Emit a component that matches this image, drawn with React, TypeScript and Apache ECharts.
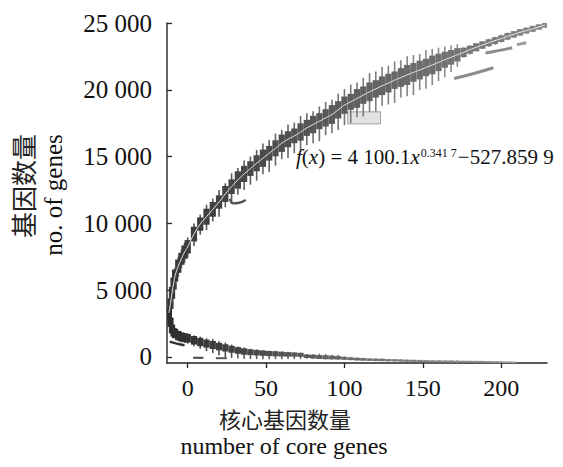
import React, { useEffect, useRef } from "react";
import * as echarts from "echarts";

// ---------- data ----------
const xTicks = [0, 50, 100, 150, 200];
const yTicks = [0, 5000, 10000, 15000, 20000, 25000];

// pan-genome boxes (upper band)
const panX = [-12, -11, -10, -9, -8, -6, -4, -2,
  0, 4, 8, 12, 16, 20, 24, 28, 32, 36,
  40, 44, 48, 52, 56, 60, 64, 68, 72, 76, 80, 84, 88, 92, 96,
  100, 104, 108, 112, 116, 120, 124, 128, 132, 136, 140, 144, 148, 152, 156, 160, 164, 168, 172,
  176, 180, 184, 188, 192, 196, 200, 204, 208, 212, 216, 220, 224, 228];
const panMedian = [3300, 4000, 4800, 5500, 6100, 6800, 7350, 7850,
  8250, 9200, 9950, 10500, 11050, 11600, 12200, 12750, 13250, 13700,
  14100, 14500, 14880, 15250, 15620, 16000, 16300, 16550, 16840, 17150, 17400, 17650, 17900, 18150, 18500,
  18850, 19100, 19350, 19600, 19850, 20070, 20300, 20500, 20720, 20920, 21110, 21300, 21480, 21670, 21860, 22050, 22250, 22430, 22620,
  22800, 23000, 23180, 23350, 23520, 23680, 23830, 24000, 24150, 24300, 24430, 24560, 24700, 24850];
const panBoxHalf = [350, 400, 450, 450, 450, 500, 450, 500,
  500, 550, 500, 600, 550, 500, 600, 550, 650, 600,
  550, 600, 650, 550, 600, 650, 600, 550, 650, 600, 650, 600, 650, 700, 650,
  650, 600, 700, 650, 700, 650, 700, 700, 650, 700, 750, 700, 700, 650, 700, 650, 600, 550, 500,
  350, 300, 300, 280, 260, 260, 250, 250, 240, 240, 220, 220, 200, 200];
const panWhiskerLow = [500, 600, 700, 700, 700, 800, 700, 800,
  800, 900, 800, 1000, 900, 1100, 1000, 1200, 1100, 1200,
  1200, 1300, 1200, 1400, 1300, 1200, 1400, 1300, 1500, 1300, 1400, 1500, 1300, 1400, 1500,
  1500, 1600, 1400, 1600, 1500, 1700, 1500, 1600, 1700, 1500, 1600, 1700, 1500, 1600, 1500, 1400, 1300, 1100, 900,
  400, 350, 300, 300, 300, 300, 300, 300, 250, 250, 250, 250, 200, 200];
const panWhiskerHigh = [500, 600, 600, 700, 600, 700, 700, 700,
  700, 800, 700, 900, 800, 900, 800, 1000, 900, 1000,
  900, 1000, 1100, 1000, 1100, 1000, 1100, 1000, 1200, 1100, 1000, 1100, 1200, 1100, 1200,
  1200, 1300, 1200, 1300, 1400, 1300, 1400, 1300, 1400, 1300, 1400, 1300, 1200, 1300, 1200, 1100, 1000, 900, 800,
  400, 350, 300, 300, 300, 300, 300, 300, 250, 250, 250, 250, 200, 200];

// core-genome boxes (lower band)
const coreX = [-12, -11, -10, -9, -8, -6, -4, -2,
  0, 4, 8, 12, 16, 20, 24, 28, 32, 36,
  40, 44, 48, 52, 56, 60, 64, 68, 72, 76, 80, 84, 88, 92, 96,
  100, 104, 108, 112, 116, 120, 124, 128, 132, 136, 140, 144, 148, 152, 156, 160, 164, 168, 172,
  176, 180, 184, 188, 192, 196, 200, 204, 208];
const coreMedian = [3200, 2600, 2100, 1850, 1750, 1600, 1500, 1450,
  1400, 1250, 1120, 1000, 900, 780, 680, 580, 490, 410,
  360, 320, 290, 260, 240, 215, 195, 180, 160, 60, 30, 0, -20, -40, -60,
  -100, -130, -160, -180, -200, -210, -220, -240, -250, -260, -280, -290, -300, -310, -320, -320, -330, -330, -340,
  -340, -345, -350, -350, -360, -370, -380, -390, -400];
const coreBoxHalf = [350, 350, 330, 330, 350, 350, 340, 330,
  320, 320, 310, 300, 300, 280, 270, 260, 250, 240,
  220, 210, 200, 190, 190, 180, 170, 160, 150, 130, 140, 150, 150, 140, 130,
  110, 100, 100, 100, 90, 90, 90, 80, 80, 80, 80, 80, 80, 70, 70, 70, 70, 70, 70,
  60, 60, 60, 60, 60, 60, 60, 60, 60];
const coreWhiskerLow = [350, 350, 350, 350, 350, 400, 400, 400,
  400, 450, 500, 550, 600, 650, 700, 650, 600, 550,
  500, 480, 450, 420, 400, 380, 360, 340, 320, 200, 180, 150, 150, 150, 150,
  120, 120, 100, 100, 100, 100, 100, 100, 90, 90, 90, 90, 90, 80, 80, 80, 80, 80, 80,
  60, 60, 60, 60, 60, 60, 60, 60, 60];
const coreWhiskerHigh = [350, 350, 350, 350, 350, 350, 350, 350,
  350, 350, 400, 400, 450, 400, 400, 350, 300, 300,
  260, 250, 240, 220, 220, 200, 190, 180, 170, 160, 200, 250, 250, 200, 200,
  150, 150, 120, 120, 100, 100, 100, 100, 100, 100, 90, 90, 90, 80, 80, 80, 80, 80, 80,
  60, 60, 60, 60, 60, 60, 60, 60, 60];

// stray traces visible in the reference
const panTraceA = [[170, 20850], [182, 21200], [195, 21650]];
const panTraceB = [[190, 22750], [199, 22950], [207, 23150]];
const panTraceC = [[210, 23380], [216, 23520]];
const panHook = [[27, 11850], [29, 11500], [33, 11550], [37, 11750]];
const coreTrace = [[-11.5, 1150], [-7, 1000], [-2, 880]];
const coreLowA = [[3.5, -60], [10, -60]];
const coreLowB = [[18, -90], [25, -90]];
const panPatch = [[102, 123, 17450, 18350]];

const SERIF = '"Liberation Serif", "Times New Roman", serif';
const CJK = '"Noto Sans CJK SC", sans-serif';

function fmtThousands(v: number): string {
  if (Math.abs(v) < 1000) return String(v);
  const th = Math.floor(v / 1000);
  const rest = String(v % 1000).padStart(3, "0");
  return `${th} ${rest}`;
}

function buildBoxes(xs: number[], med: number[], half: number[], lo: number[], hi: number[]) {
  return xs.map((x, i) => [x, med[i] - lo[i], med[i] - half[i], med[i], med[i] + half[i], med[i] + hi[i]]);
}

function gray(v: number) {
  const c = Math.round(v);
  return `rgb(${c},${c},${c})`;
}

function makeRender(boxFrom: number, boxTo: number, whFrom: number, whTo: number, span: number) {
  return (params: any, api: any) => {
    const x = api.value(0);
    const lo = api.coord([x, api.value(1)]);
    const q1 = api.coord([x, api.value(2)]);
    const q3 = api.coord([x, api.value(4)]);
    const hi = api.coord([x, api.value(5)]);
    const w = api.size([4, 0])[0];
    const t = Math.min(1, Math.max(0, (x + 12) / span));
    return {
      type: "group",
      children: [
        {
          type: "line",
          shape: { x1: lo[0], y1: lo[1], x2: hi[0], y2: hi[1] },
          style: { stroke: gray(whFrom + (whTo - whFrom) * t), lineWidth: 1.6 },
        },
        {
          type: "rect",
          shape: { x: q1[0] - w / 2, y: q3[1], width: w, height: Math.max(1, q1[1] - q3[1]) },
          style: { fill: gray(boxFrom + (boxTo - boxFrom) * t) },
        },
      ],
    };
  };
}

export default function App() {
  const ref = useRef<HTMLDivElement>(null);
  useEffect(() => {
    if (!ref.current) return;
    const chart = echarts.init(ref.current, undefined, { renderer: "svg" });
    const traceStyle = (c: string, w: number) => ({
      type: "line" as const,
      symbol: "none",
      smooth: true,
      lineStyle: { color: c, width: w },
      z: 4,
      silent: true,
    });
    chart.setOption({
      animation: false,
      grid: { left: 167, top: 23, right: 16, bottom: 104 },
      xAxis: {
        type: "value",
        min: -13.2,
        max: 229.2,
        splitLine: { show: false },
        axisLine: { show: true, onZero: false, lineStyle: { color: "#222", width: 1.5 } },
        axisTick: { show: true, inside: false, length: 5, lineStyle: { color: "#222", width: 1.3 }, customValues: xTicks },
        axisLabel: {
          customValues: xTicks,
          margin: 13,
          color: "#111",
          fontFamily: SERIF,
          fontSize: 24,
        },
      },
      yAxis: {
        type: "value",
        min: -450,
        max: 25000,
        splitLine: { show: false },
        axisLine: { show: true, onZero: false, lineStyle: { color: "#333", width: 1.5 } },
        axisTick: { show: true, inside: true, length: 5, lineStyle: { color: "#222", width: 1.3 }, customValues: yTicks },
        axisLabel: {
          customValues: yTicks,
          margin: 15,
          color: "#111",
          fontFamily: SERIF,
          fontSize: 25,
          formatter: (v: number) => fmtThousands(v),
        },
      },
      series: [
        {
          type: "custom",
          name: "patch",
          renderItem: (params: any, api: any) => {
            const a = api.coord([api.value(0), api.value(3)]);
            const b = api.coord([api.value(1), api.value(2)]);
            return {
              type: "rect",
              shape: { x: a[0], y: a[1], width: b[0] - a[0], height: b[1] - a[1] },
              style: { fill: "#e2e2e2", stroke: "#a0a0a0", lineWidth: 1 },
            };
          },
          data: panPatch,
          encode: { x: [0, 1], y: [2, 3] },
          z: 1,
          silent: true,
        },
        {
          type: "custom",
          name: "pan",
          renderItem: makeRender(55, 135, 75, 165, 240),
          data: buildBoxes(panX, panMedian, panBoxHalf, panWhiskerLow, panWhiskerHigh),
          encode: { x: 0, y: [1, 2, 3, 4, 5] },
          clip: true,
          z: 2,
          silent: true,
        },
        {
          type: "custom",
          name: "core",
          renderItem: makeRender(45, 160, 60, 185, 220),
          data: buildBoxes(coreX, coreMedian, coreBoxHalf, coreWhiskerLow, coreWhiskerHigh),
          encode: { x: 0, y: [1, 2, 3, 4, 5] },
          clip: true,
          z: 2,
          silent: true,
        },
        {
          ...traceStyle("#e6e6e6", 1),
          name: "panFit",
          data: panX.map((x, i) => [x, panMedian[i]]),
          z: 5,
        },
        { ...traceStyle("#8c8c8c", 3), name: "tA", data: panTraceA },
        { ...traceStyle("#8c8c8c", 3), name: "tB", data: panTraceB },
        { ...traceStyle("#9a9a9a", 3), name: "tC", data: panTraceC },
        { ...traceStyle("#555", 2.5), name: "hook", data: panHook },
        { ...traceStyle("#333", 2.5), name: "coreTrace", data: coreTrace },
        { ...traceStyle("#444", 2), name: "coreLowA", data: coreLowA },
        { ...traceStyle("#555", 2), name: "coreLowB", data: coreLowB },
      ],
      graphic: [
        {
          type: "text",
          x: 296,
          y: 157,
          style: {
            text: "{i|f}(" + "{i|x}) = 4 100.1{i|x}{sup|0.341 7}−527.859 9",
            fontFamily: SERIF,
            fontSize: 21,
            fill: "#111",
            verticalAlign: "middle",
            align: "left",
            rich: {
              i: { fontStyle: "italic", fontFamily: SERIF, fontSize: 21, fill: "#111" },
              sup: { fontFamily: SERIF, fontSize: 12, fill: "#111", verticalAlign: "top", padding: [0, 1, 0, 1] },
            },
          },
          z: 10,
        },
        {
          type: "text",
          x: 22,
          y: 186,
          rotation: Math.PI / 2,
          style: { text: "基因数量", fontFamily: CJK, fontSize: 26, lineHeight: 26, fill: "#222", align: "center", verticalAlign: "middle" },
        },
        {
          type: "text",
          x: 53,
          y: 195,
          rotation: Math.PI / 2,
          style: { text: "no. of genes", fontFamily: SERIF, fontSize: 25, lineHeight: 25, fill: "#111", align: "center", verticalAlign: "middle" },
        },
        {
          type: "text",
          x: 285,
          y: 418,
          style: { text: "核心基因数量", fontFamily: CJK, fontSize: 22, lineHeight: 22, fill: "#222", align: "center", verticalAlign: "middle" },
        },
        {
          type: "text",
          x: 284,
          y: 446,
          style: { text: "number of core genes", fontFamily: SERIF, fontSize: 24, lineHeight: 24, fill: "#111", align: "center", verticalAlign: "middle" },
        },
      ],
    });
    return () => chart.dispose();
  }, []);
  return (
    <div
      ref={ref}
      style={{ position: "fixed", left: 0, top: 0, width: 563, height: 467, background: "#fff" }}
    />
  );
}
